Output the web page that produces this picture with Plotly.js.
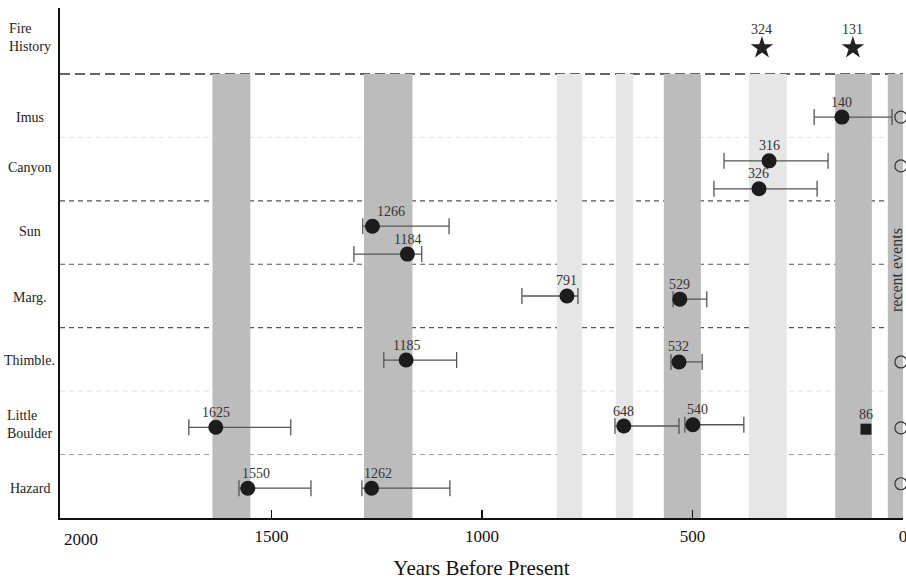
<!DOCTYPE html>
<html>
<head>
<meta charset="utf-8">
<script src="https://cdn.plot.ly/plotly-3.0.1.min.js"></script>
<style>html,body{margin:0;padding:0;background:#fff;}#chart{width:906px;height:580px;}</style>
</head>
<body>
<div id="chart"></div>
<script>
// ---- Data ----
const rowNames = ['Fire<br>History', 'Imus', 'Canyon', 'Sun', 'Marg.', 'Thimble.', 'Little<br>Boulder', 'Hazard'];
const rowLabelY = [7.08, 5.82, 5.03, 4.01, 2.98, 1.99, 0.97, -0.03];

// radiocarbon-dated fire events (label = reported age, plotted = position on chart)
const dateLabels = ['140', '316', '326', '1266', '1184', '791', '529', '1185', '532', '1625', '648', '540', '1550', '1262'];
const datePlotted = [145, 318, 342, 1260, 1177, 798, 530, 1180, 532, 1632, 663, 499, 1556, 1262];
const dateRowY = [5.82, 5.13, 4.69, 4.10, 3.66, 3.00, 2.95, 1.99, 1.96, 0.93, 0.95, 0.97, -0.03, -0.03];
const rangeOlder = [211, 425, 449, 1283, 1304, 905, 546, 1233, 551, 1696, 684, 518, 1577, 1285];
const rangeYounger = [26, 178, 204, 1078, 1143, 772, 466, 1060, 477, 1454, 532, 378, 1406, 1076];

// fire history (stars)
const fireLabels = ['324', '131'];
const firePlotted = [335, 119];
const fireY = [6.91, 6.91];

// other dated event (square)
const squareLabels = ['86'];
const squarePlotted = [88];
const squareY = [0.90];

// recent events (open circles)
const recentX = [5, 5, 5, 5, 5];
const recentY = [5.82, 5.05, 1.96, 0.92, 0.04];

// shaded periods [older, younger, shade]
const bandOlder = [1640, 1280, 822, 682, 568, 366, 161, 36];
const bandYounger = [1550, 1165, 762, 641, 480, 276, 74, 0];
const bandShade = ['dark', 'dark', 'light', 'light', 'dark', 'light', 'dark', 'dark'];

// row separators
const sepY = [6.5, 5.5, 4.5, 3.5, 2.5, 1.5, 0.5];
const sepStyle = ['heavy', 'faint', 'normal', 'normal', 'normal', 'faint', 'light'];

const tickValues = [2000, 1500, 1000, 500, 0];
const tickLabels = ['2000', '1500', '1000', '500', '0'];

// ---- Build ----
const SERIF = 'Liberation Serif, Times New Roman, serif';
const shadeColor = {dark: '#bcbcbc', light: '#e6e6e6'};
const sepLine = {
  heavy: {color: '#333', width: 1.5, dash: '10px,5px'},
  normal: {color: '#555', width: 1.2, dash: '5px,4px'},
  light: {color: '#999', width: 1, dash: '5px,4px'},
  faint: {color: '#e2e2e2', width: 1, dash: '5px,4px'}
};
// horizontal nudges of a few value labels (styling)
const labelNudge = {'1266': 19, '1550': 8, '1262': 6, '540': 5};

const shapes = [];
bandOlder.forEach((o, i) => {
  shapes.push({type: 'rect', layer: 'below', xref: 'x', yref: 'y', x0: o, x1: bandYounger[i], y0: -0.5, y1: 6.5,
    fillcolor: shadeColor[bandShade[i]], line: {width: 0}});
});
sepY.forEach((y, i) => {
  shapes.push({type: 'line', layer: 'below', xref: 'paper', yref: 'y', x0: 0, x1: 1, y0: y, y1: y,
    line: sepLine[sepStyle[i]]});
});

const traces = [
  {
    type: 'scatter', mode: 'markers', x: datePlotted, y: dateRowY,
    marker: {symbol: 'circle', size: 15, color: '#1c1c1c'},
    error_x: {type: 'data', symmetric: false,
      array: rangeOlder.map((o, i) => o - datePlotted[i]),
      arrayminus: rangeYounger.map((y, i) => datePlotted[i] - y),
      color: '#555', thickness: 1.3, width: 8},
    hoverinfo: 'skip', cliponaxis: false
  },
  {
    type: 'scatter', mode: 'markers', x: firePlotted, y: fireY,
    marker: {symbol: 'star', size: 17, color: '#222'}, hoverinfo: 'skip', cliponaxis: false
  },
  {
    type: 'scatter', mode: 'markers', x: squarePlotted, y: squareY,
    marker: {symbol: 'square', size: 11, color: '#1c1c1c'}, hoverinfo: 'skip', cliponaxis: false
  },
  {
    type: 'scatter', mode: 'markers', x: recentX, y: recentY,
    marker: {symbol: 'circle-open', size: 12, color: '#333', line: {width: 1.2}}, hoverinfo: 'skip', cliponaxis: false
  }
];

const valFont = {family: SERIF, size: 14, color: '#333'};
const annotations = [];
function addLabels(xs, ys, texts, dy) {
  texts.forEach((t, i) => annotations.push({
    xref: 'x', yref: 'y', x: xs[i], y: ys[i], text: t, showarrow: false,
    xanchor: 'center', yanchor: 'middle', yshift: dy, xshift: labelNudge[t] || 0, font: valFont
  }));
}
addLabels(datePlotted, dateRowY, dateLabels, 15);
addLabels(firePlotted, fireY, fireLabels, 18);
addLabels(squarePlotted, squareY, squareLabels, 15);

rowNames.forEach((n, i) => annotations.push({
  xref: 'paper', yref: 'y', x: -0.036, y: rowLabelY[i], text: n, showarrow: false,
  xanchor: 'center', yanchor: 'middle', align: 'left', font: {family: SERIF, size: 14, color: '#222'}
}));
annotations.push({
  xref: 'x', yref: 'y', x: 14, y: 3.41, text: 'recent events', textangle: -90, showarrow: false,
  xanchor: 'center', yanchor: 'middle', font: {family: SERIF, size: 16, color: '#333'}
});
annotations.push({
  xref: 'x', yref: 'paper', x: tickValues[0], y: 0, xanchor: 'left', yanchor: 'top', xshift: 1, yshift: -10,
  text: tickLabels[0], showarrow: false, font: {family: SERIF, size: 17, color: '#111'}
});

const layout = {
  width: 906, height: 580,
  margin: {l: 60, r: 3, t: 8, b: 62},
  paper_bgcolor: '#fff', plot_bgcolor: '#fff',
  showlegend: false,
  xaxis: {
    range: [2002, 0], showgrid: false, zeroline: false,
    showline: true, linecolor: '#111', linewidth: 2,
    ticks: 'inside', ticklen: 8, tickwidth: 1.5, tickcolor: '#111',
    tickvals: tickValues.slice(1), ticktext: tickLabels.slice(1),
    ticklabeloverflow: 'allow', ticklabelstandoff: 2,
    tickfont: {family: SERIF, size: 17, color: '#111'},
    title: {text: 'Years Before Present', font: {family: SERIF, size: 21, color: '#111'}, standoff: 16}
  },
  yaxis: {
    range: [-0.5, 7.54], showgrid: false, zeroline: false, showticklabels: false,
    showline: true, linecolor: '#111', linewidth: 2.5, ticks: ''
  },
  shapes: shapes,
  annotations: annotations
};

Plotly.newPlot('chart', traces, layout, {displayModeBar: false, staticPlot: true});
</script>
</body>
</html>
